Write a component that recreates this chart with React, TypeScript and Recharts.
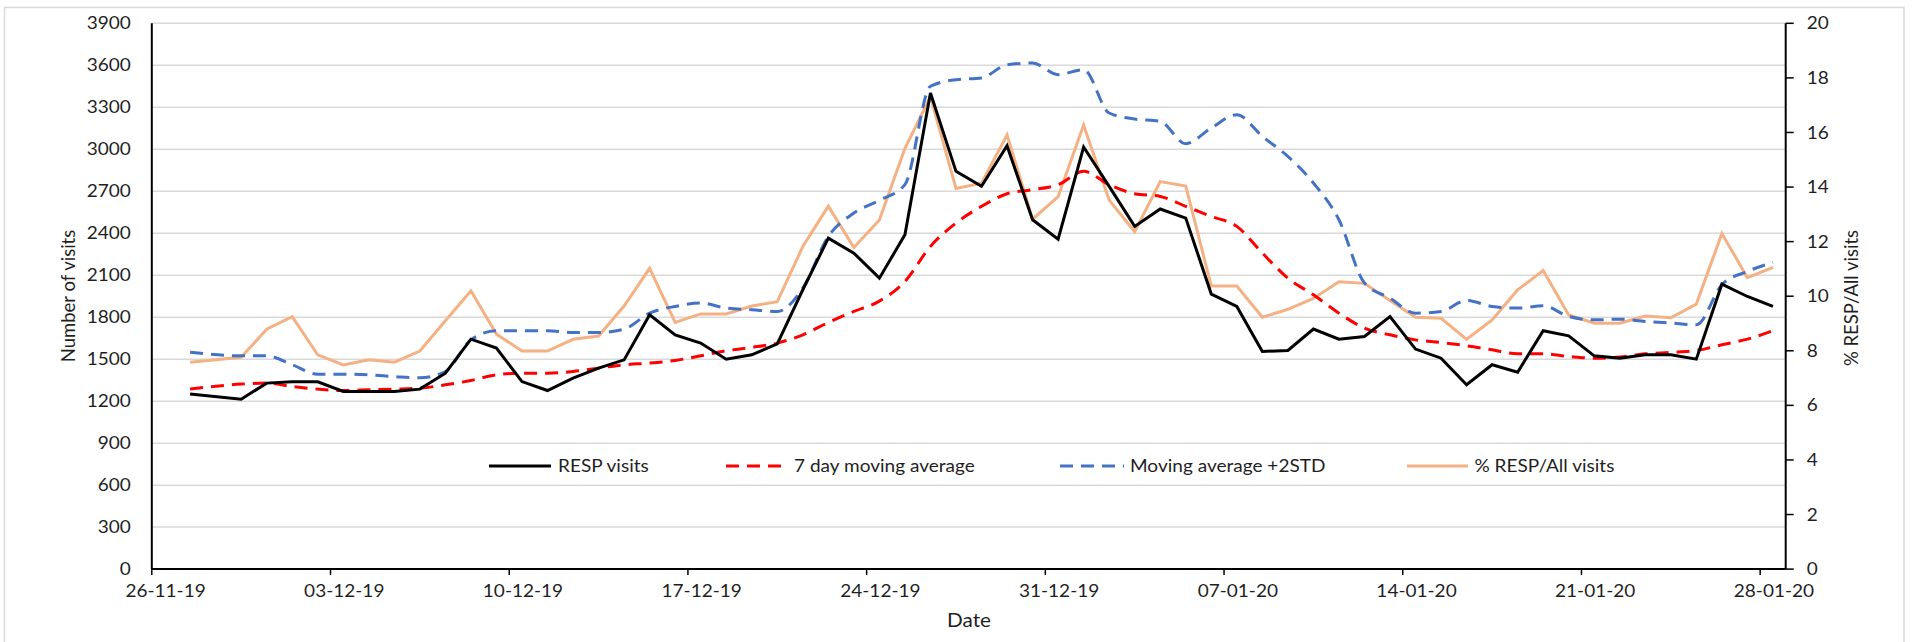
import React from "react";
import { LineChart, Line, XAxis, YAxis, CartesianGrid, Customized } from "recharts";

const dates = [
  "27-11-19", "29-11-19", "30-11-19", "01-12-19", "02-12-19", "03-12-19", "04-12-19", "05-12-19",
  "06-12-19", "07-12-19", "08-12-19", "09-12-19", "10-12-19", "11-12-19", "12-12-19", "13-12-19",
  "14-12-19", "15-12-19", "16-12-19", "17-12-19", "18-12-19", "19-12-19", "20-12-19", "21-12-19",
  "22-12-19", "23-12-19", "24-12-19", "25-12-19", "26-12-19", "27-12-19", "28-12-19", "29-12-19",
  "30-12-19", "31-12-19", "01-01-20", "02-01-20", "03-01-20", "04-01-20", "05-01-20", "06-01-20",
  "07-01-20", "08-01-20", "09-01-20", "10-01-20", "11-01-20", "12-01-20", "13-01-20", "14-01-20",
  "15-01-20", "16-01-20", "17-01-20", "18-01-20", "19-01-20", "20-01-20", "21-01-20", "22-01-20",
  "23-01-20", "24-01-20", "25-01-20", "26-01-20", "27-01-20", "28-01-20",
];

const respVisits = [
  1252, 1214, 1329, 1338, 1338, 1269, 1269, 1269,
  1286, 1400, 1643, 1579, 1340, 1276, 1364, 1436,
  1495, 1817, 1674, 1615, 1500, 1531, 1610, 1996,
  2365, 2258, 2079, 2389, 3402, 2842, 2735, 3025,
  2496, 2358, 3016, 2735, 2449, 2573, 2508, 1965,
  1877, 1555, 1562, 1715, 1643, 1662, 1805, 1572,
  1507, 1317, 1460, 1407, 1703, 1667, 1524, 1507,
  1531, 1531, 1500, 2036, 1948, 1877,
];

const movingAvg7 = [
  1286, 1322, 1329, 1305, 1286, 1276, 1281, 1286,
  1293, 1317, 1348, 1388, 1400, 1400, 1412, 1436,
  1460, 1472, 1491, 1524, 1560, 1584, 1615, 1674,
  1762, 1841, 1915, 2055, 2306, 2473, 2592, 2682,
  2711, 2747, 2842, 2747, 2682, 2663, 2592, 2520,
  2449, 2258, 2079, 1960, 1829, 1722, 1674, 1638,
  1619, 1596, 1567, 1538, 1538, 1519, 1507, 1515,
  1538, 1548, 1562, 1603, 1643, 1703,
];

const movingAvg2Std = [
  1550, 1524, 1524, 1460, 1393, 1393, 1388, 1376,
  1367, 1412, 1638, 1703, 1703, 1703, 1691, 1691,
  1715, 1829, 1877, 1901, 1865, 1853, 1841, 2008,
  2377, 2544, 2635, 2747, 3450, 3497, 3509, 3604,
  3616, 3533, 3569, 3259, 3216, 3199, 3040, 3152,
  3247, 3092, 2949, 2759, 2496, 2044, 1936, 1829,
  1841, 1920, 1877, 1865, 1882, 1805, 1781, 1786,
  1770, 1758, 1746, 2032, 2127, 2191,
];

const pctRespAll = [
  7.58, 7.76, 8.79, 9.25, 7.85, 7.48, 7.67, 7.58,
  7.99, 9.1, 10.2, 8.61, 7.99, 7.99, 8.42, 8.54,
  9.64, 11.02, 9.04, 9.35, 9.35, 9.64, 9.8, 11.82,
  13.3, 11.78, 12.79, 15.42, 17.31, 13.95, 14.14, 15.91,
  12.82, 13.65, 16.27, 13.52, 12.36, 14.2, 14.04, 10.37,
  10.37, 9.23, 9.52, 9.92, 10.53, 10.47, 9.84, 9.23,
  9.19, 8.42, 9.13, 10.23, 10.94, 9.31, 9.01, 9.01,
  9.27, 9.21, 9.71, 12.3, 10.68, 11.06,
];

const axisStartDate = "26-11-19";
const axisDays = 64;
const xTickDays = [0, 7, 14, 21, 28, 35, 42, 49, 56, 63];
const leftTicks = [0, 300, 600, 900, 1200, 1500, 1800, 2100, 2400, 2700, 3000, 3300, 3600, 3900];
const rightTicks = [0, 2, 4, 6, 8, 10, 12, 14, 16, 18, 20];

const seriesNames = ["RESP visits", "7 day moving average", "Moving average +2STD", "% RESP/All visits"];

const parseDate = (s: string) => {
  const [dd, mm, yy] = s.split("-").map(Number);
  return Date.UTC(2000 + yy, mm - 1, dd);
};
const DAY = 86400000;
const start = parseDate(axisStartDate);
const fmt = (ms: number) => {
  const d = new Date(ms);
  const p = (n: number) => String(n).padStart(2, "0");
  return `${p(d.getUTCDate())}-${p(d.getUTCMonth() + 1)}-${p(d.getUTCFullYear() % 100)}`;
};

const data = dates.map((d, i) => ({
  x: (parseDate(d) - start) / DAY + 0.5,
  date: d,
  resp: respVisits[i],
  ma: movingAvg7[i],
  ma2: movingAvg2Std[i],
  pct: pctRespAll[i],
}));

const FONT = "Lato, 'Open Sans', sans-serif";
const TXT = "#1f1f1f";
const SX = 1.12;
const DASH = "13 8";

const W = 1914;
const H = 642;
const PL = 151.8;
const PR = 1785.7;
const PT = 23.3;
const PB = 569.1;

const LeftTick = (props: any) => {
  const { x, y, payload } = props;
  return (
    <text transform={`translate(${x},${y}) scale(${SX},1)`} textAnchor="end" dy="0.36em" fontFamily={FONT} fontSize={17} fill={TXT}>
      {payload.value}
    </text>
  );
};

const RightTick = (props: any) => {
  const { x, y, payload } = props;
  return (
    <text transform={`translate(${x},${y}) scale(${SX},1)`} textAnchor="start" dy="0.36em" fontFamily={FONT} fontSize={17} fill={TXT}>
      {payload.value}
    </text>
  );
};

const halfDay = (PR - PL) / axisDays / 2;

const BottomTick = (props: any) => {
  const { x, y, payload } = props;
  return (
    <text transform={`translate(${x + halfDay + 1},${y + 22}) scale(${SX},1)`} textAnchor="middle" fontFamily={FONT} fontSize={17} fill={TXT}>
      {fmt(start + payload.value * DAY)}
    </text>
  );
};

const legendItems = [
  { name: seriesNames[0], color: "#000000", dash: undefined, x1: 489, x2: 551, tx: 558 },
  { name: seriesNames[1], color: "#ff0000", dash: DASH, x1: 726, x2: 788, tx: 794 },
  { name: seriesNames[2], color: "#4472c4", dash: DASH, x1: 1060, x2: 1124, tx: 1130 },
  { name: seriesNames[3], color: "#f4b183", dash: undefined, x1: 1407, x2: 1468, tx: 1474.5 },
];

const Decorations = () => (
  <g>
    <rect x={4.5} y={7.5} width={1899.5} height={640} fill="none" stroke="#d9d9d9" strokeWidth={1.5} />
    {legendItems.map((it) => (
      <g key={it.name}>
        <line x1={it.x1} x2={it.x2} y1={466} y2={466} stroke={it.color} strokeWidth={3} strokeDasharray={it.dash} />
        <text transform={`translate(${it.tx},466) scale(${SX},1)`} dy="0.36em" fontFamily={FONT} fontSize={17} fill={TXT}>
          {it.name}
        </text>
      </g>
    ))}
    <text transform={`translate(68.5,296) rotate(-90)`} textAnchor="middle" dy="0.36em" fontFamily={FONT} fontSize={18.5} fill={TXT}>
      Number of visits
    </text>
    <text transform={`translate(1851,298) rotate(-90)`} textAnchor="middle" dy="0.36em" fontFamily={FONT} fontSize={18.5} fill={TXT}>
      % RESP/All visits
    </text>
    <text transform={`translate(969,620) scale(${SX},1)`} textAnchor="middle" dy="0.36em" fontFamily={FONT} fontSize={18.5} fill={TXT}>
      Date
    </text>
  </g>
);

export default function App() {
  return (
    <div style={{ position: "absolute", left: 0, top: 0, width: W, height: H, background: "#fff" }}>
      <LineChart
        width={W}
        height={H}
        data={data}
        margin={{ top: PT, right: 0, bottom: 0, left: 0 }}
      >
        <CartesianGrid yAxisId="left" vertical={false} stroke="#d9d9d9" strokeWidth={1.5} />
        <XAxis
          dataKey="x"
          type="number"
          domain={[0, axisDays]}
          ticks={xTickDays}
          interval={0}
          height={H - PB}
          tickSize={6}
          tickMargin={0}
          tick={<BottomTick />}
          axisLine={{ stroke: "#000", strokeWidth: 2 }}
          tickLine={{ stroke: "#000", strokeWidth: 1.5 }}
          allowDataOverflow
        />
        <YAxis
          yAxisId="left"
          orientation="left"
          width={PL}
          domain={[0, 3900]}
          ticks={leftTicks}
          interval={0}
          tickSize={0}
          tickMargin={21}
          tick={<LeftTick />}
          axisLine={{ stroke: "#000", strokeWidth: 2 }}
          tickLine={false}
        />
        <YAxis
          yAxisId="right"
          orientation="right"
          width={W - PR}
          domain={[0, 20]}
          ticks={rightTicks}
          interval={0}
          tickSize={8}
          tickMargin={13}
          tick={<RightTick />}
          axisLine={{ stroke: "#000", strokeWidth: 2 }}
          tickLine={{ stroke: "#000", strokeWidth: 1.5 }}
        />
        <Line yAxisId="right" dataKey="pct" name={seriesNames[3]} type="linear" stroke="#f4b183" strokeWidth={3} dot={false} isAnimationActive={false} />
        <Line yAxisId="left" dataKey="ma2" name={seriesNames[2]} type="monotone" stroke="#4472c4" strokeWidth={3} strokeDasharray={DASH} dot={false} isAnimationActive={false} />
        <Line yAxisId="left" dataKey="ma" name={seriesNames[1]} type="monotone" stroke="#ff0000" strokeWidth={3} strokeDasharray={DASH} dot={false} isAnimationActive={false} />
        <Line yAxisId="left" dataKey="resp" name={seriesNames[0]} type="linear" stroke="#000000" strokeWidth={3} dot={false} isAnimationActive={false} />
        <Customized component={Decorations} />
      </LineChart>
    </div>
  );
}
